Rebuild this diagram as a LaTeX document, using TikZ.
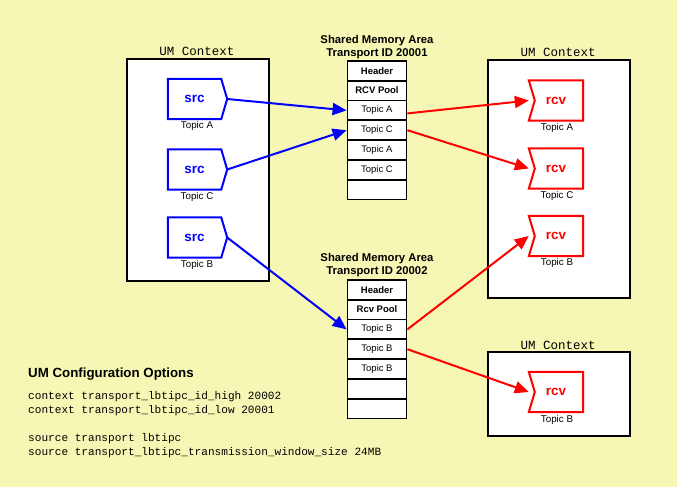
\documentclass[tikz,border=0pt]{standalone}
\usepackage{fontspec}
\setmainfont{Liberation Sans}
\setmonofont{Liberation Mono}
\usetikzlibrary{arrows.meta}
\definecolor{bgyellow}{RGB}{247,247,181}
\definecolor{srcblue}{RGB}{0,0,255}
\definecolor{rcvred}{RGB}{255,0,0}
\definecolor{rowshadow}{RGB}{160,160,160}
\begin{document}
\begin{tikzpicture}[x=1pt,y=-1pt,
 ctxbox/.style={draw=black,fill=white,line width=2pt},
 ctxtitle/.style={font=\ttfamily\fontsize{12.5}{14}\selectfont, inner sep=0pt},
 memtitle/.style={font=\bfseries\fontsize{11.3}{13.5}\selectfont, inner sep=0pt, align=center},
 memrow/.style={draw=black, fill=white, line width=1.8pt, minimum width=59pt, minimum height=19.8pt, inner sep=0pt, anchor=north, font=\fontsize{9.5}{11}\selectfont},
 memhead/.style={memrow, font=\bfseries\fontsize{9.5}{11}\selectfont},
 srcnode/.style={minimum width=53pt, minimum height=40pt, inner sep=0pt, text=srcblue, font=\bfseries\fontsize{13.5}{15}\selectfont},
 rcvnode/.style={minimum width=54pt, minimum height=40pt, inner sep=0pt, text=rcvred, font=\bfseries\fontsize{13.5}{15}\selectfont},
 srcline/.style={draw=srcblue, line width=2pt, line join=miter},
 rcvline/.style={draw=rcvred, line width=2pt, line join=miter},
 toplabel/.style={font=\fontsize{9.8}{11}\selectfont, inner sep=0pt},
 bluearrow/.style={draw=srcblue, line width=2pt, -{Triangle[length=14pt,width=12pt]}},
 redarrow/.style={draw=rcvred, line width=2pt, -{Triangle[length=14pt,width=12pt]}},
 cfgline/.style={font=\ttfamily\fontsize{11.1}{13}\selectfont, inner sep=0pt, anchor=west},
]
\fill[bgyellow] (0,0) rectangle (677,487);
\useasboundingbox (0,0) rectangle (677,487);

% context boxes
\node[ctxbox, minimum width=142pt, minimum height=222pt, anchor=north west, inner sep=0pt] (ctxL) at (126,58) {};
\node[ctxbox, minimum width=142pt, minimum height=238pt, anchor=north west, inner sep=0pt] (ctxR) at (487,59) {};
\node[ctxbox, minimum width=142pt, minimum height=84pt, anchor=north west, inner sep=0pt] (ctxB) at (487,351) {};
\node[ctxtitle] (tL) at (197,51) {UM Context};
\node[ctxtitle] (tR) at (558,52) {UM Context};
\node[ctxtitle] (tB) at (558,345) {UM Context};

% shared memory 1
\node[memtitle] (mt1) at (377,47) {Shared Memory Area\\Transport ID 20001};
\node[memhead] (m1r1) at (377,60) {Header};
\node[memhead] (m1r2) at (377,79.8) {RCV Pool};
\node[memrow] (m1r3) at (377,99.6) {Topic A};
\node[memrow] (m1r4) at (377,119.4) {Topic C};
\node[memrow] (m1r5) at (377,139.2) {Topic A};
\node[memrow] (m1r6) at (377,159) {Topic C};
\node[memrow] (m1r7) at (377,178.8) {};

% shared memory 2
\node[memtitle] (mt2) at (377,265) {Shared Memory Area\\Transport ID 20002};
\node[memhead] (m2r1) at (377,279) {Header};
\node[memhead] (m2r2) at (377,298.8) {Rcv Pool};
\node[memrow] (m2r3) at (377,318.6) {Topic B};
\node[memrow] (m2r4) at (377,338.4) {Topic B};
\node[memrow] (m2r5) at (377,358.2) {Topic B};
\node[memrow] (m2r6) at (377,378) {};
\node[memrow] (m2r7) at (377,397.8) {};

% sources
\node[srcnode] (sA) at (194.5,99) {src};
\node[srcnode] (sC) at (194.5,169.5) {src};
\node[srcnode] (sB) at (194.5,237.5) {src};
\foreach \n in {sA,sC,sB}{
  \draw[srcline] (\n.north west) -- (\n.north east) -- ([xshift=6pt]\n.east) -- (\n.south east) -- (\n.south west) -- cycle;
  \coordinate (\n tip) at ([xshift=6pt]\n.east);
}
\node[toplabel] (lsA) at (197,126) {Topic A};
\node[toplabel] (lsC) at (197,197) {Topic C};
\node[toplabel] (lsB) at (197,265) {Topic B};

% receivers
\node[rcvnode] (rA) at (556,100.5) {rcv};
\node[rcvnode] (rC) at (556,168.5) {rcv};
\node[rcvnode] (rB) at (556,236) {rcv};
\node[rcvnode] (rD) at (556,392) {rcv};
\foreach \n in {rA,rC,rB,rD}{
  \draw[rcvline] (\n.north west) -- (\n.north east) -- (\n.south east) -- (\n.south west) -- ([xshift=6pt]\n.west) -- cycle;
}
\node[toplabel] (lrA) at (557,128) {Topic A};
\node[toplabel] (lrC) at (557,196) {Topic C};
\node[toplabel] (lrB) at (557,263) {Topic B};
\node[toplabel] (lrD) at (557,420) {Topic B};

% arrows
\draw[bluearrow] (sAtip) -- (m1r3.west);
\draw[bluearrow] (sCtip) -- (m1r4.west);
\draw[bluearrow] (sBtip) -- (m2r3.west);
\draw[redarrow] ([yshift=-3pt]m1r3.east) -- (rA.west);
\draw[redarrow] (m1r4.east) -- (rC.west);
\draw[redarrow] (m2r3.east) -- (rB.west);
\draw[redarrow] (m2r4.east) -- (rD.west);

% configuration
\node[font=\bfseries\fontsize{13.3}{15}\selectfont, inner sep=0pt, anchor=west] (cfgT) at (28,374) {UM Configuration Options};
\node[cfgline] (cfg1) at (28,397) {context transport\_lbtipc\_id\_high 20002};
\node[cfgline] (cfg2) at (28,411) {context transport\_lbtipc\_id\_low 20001};
\node[cfgline] (cfg3) at (28,439) {source transport lbtipc};
\node[cfgline] (cfg4) at (28,453) {source transport\_lbtipc\_transmission\_window\_size 24MB};
\end{tikzpicture}
\end{document}
